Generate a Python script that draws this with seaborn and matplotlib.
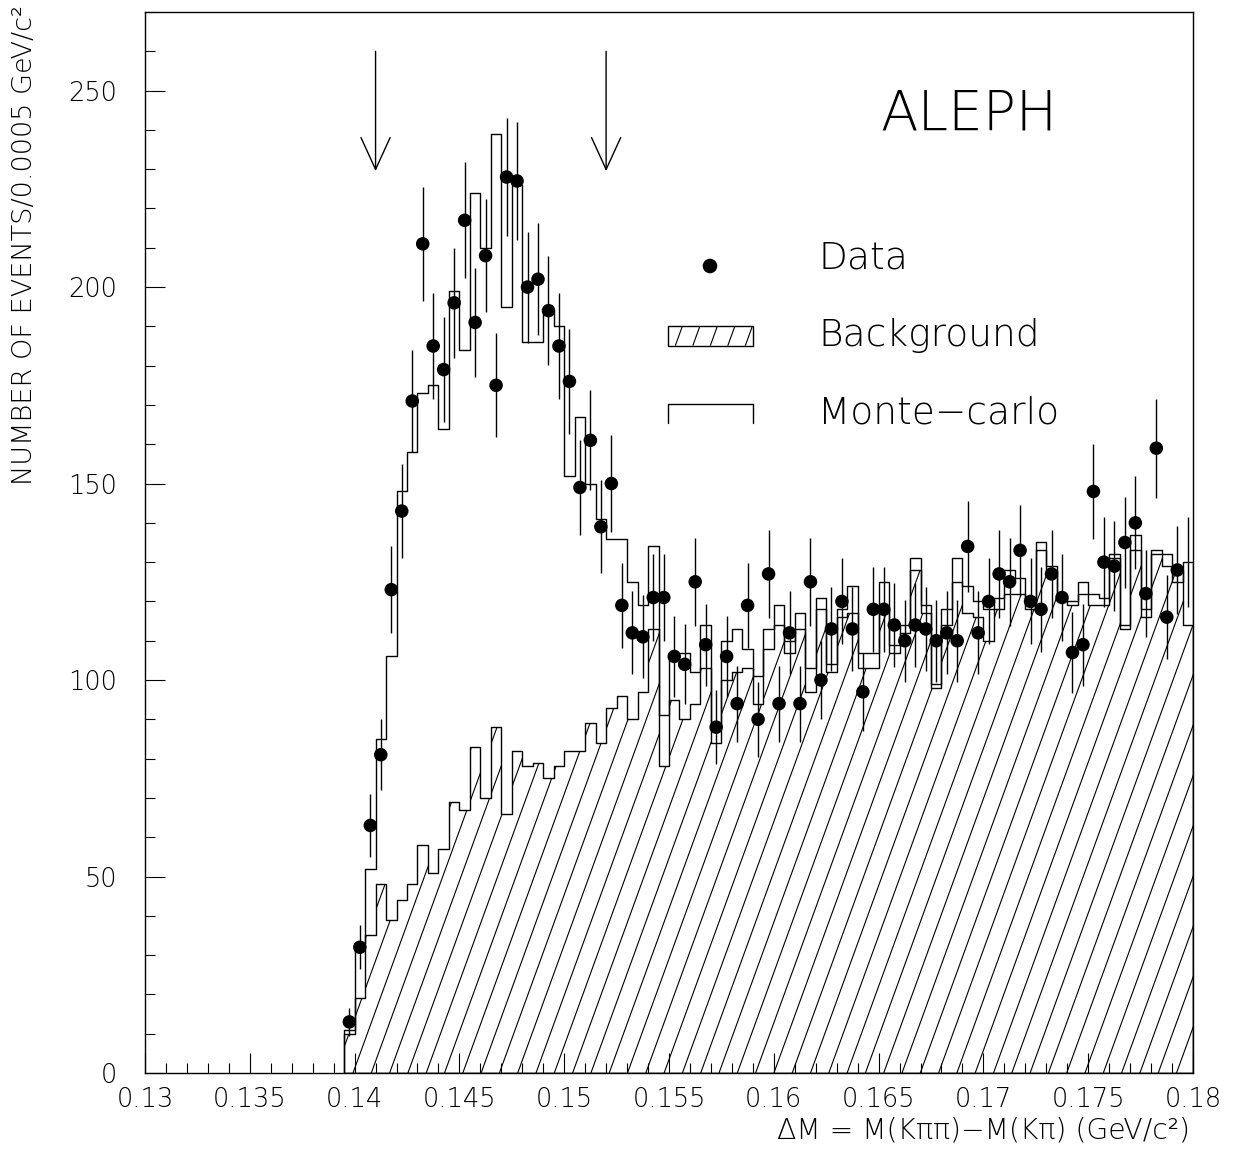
import numpy as np
import matplotlib
matplotlib.use("Agg")
import matplotlib.pyplot as plt
import matplotlib.font_manager as fm
from matplotlib.collections import LineCollection
from matplotlib.patches import Rectangle
from matplotlib.ticker import MultipleLocator, FuncFormatter
import seaborn as sns

# ---------------- data ----------------
bin_low = 0.1395
bin_width = 0.0005

data_counts = [13, 32, 63, 81, 123, 143, 171, 211, 185, 179,
               196, 217, 191, 208, 175, 228, 227, 200, 202, 194,
               185, 176, 149, 161, 139, 150, 119, 112, 111, 121,
               121, 106, 104, 125, 109, 88, 106, 94, 119, 90,
               127, 94, 112, 94, 125, 100, 113, 120, 113, 97,
               118, 118, 114, 110, 114, 113, 110, 112, 110, 134,
               112, 120, 127, 125, 133, 120, 118, 127, 121, 107,
               109, 148, 130, 129, 135, 140, 122, 159, 116, 128]
last_bin_count = 130  # shown only as an error bar in the original

mc_counts = [11, 33, 52, 85, 106, 148, 158, 173, 175, 164,
             199, 184, 224, 210, 239, 195, 226, 186, 186, 194,
             190, 152, 167, 150, 141, 136, 136, 125, 119, 134,
             91, 107, 107, 102, 114, 88, 110, 113, 108, 101,
             113, 119, 110, 117, 103, 121, 104, 118, 124, 107,
             107, 125, 109, 114, 131, 119, 99, 118, 131, 124,
             120, 118, 121, 128, 126, 120, 135, 129, 121, 120,
             125, 122, 121, 132, 114, 137, 118, 133, 132, 125,
             130]

bg_counts = [10, 19, 35, 48, 39, 44, 48, 58, 51, 57,
             69, 67, 83, 70, 88, 66, 82, 78, 79, 75,
             78, 82, 82, 89, 84, 93, 96, 90, 97, 113,
             78, 95, 90, 94, 103, 84, 100, 102, 103, 94,
             108, 114, 107, 113, 97, 118, 102, 116, 117, 103,
             103, 118, 107, 112, 128, 117, 98, 114, 125, 117,
             116, 110, 118, 122, 122, 118, 133, 128, 120, 119,
             122, 119, 119, 131, 113, 133, 116, 132, 129, 128,
             114]

cut_positions = [0.141, 0.152]
legend_labels = ["Data", "Background", "Monte\u2212carlo"]
x_label = "\u0394M = M(K\u03c0\u03c0)\u2212M(K\u03c0) (GeV/c\u00b2)"
y_label = "NUMBER OF EVENTS/0.0005 GeV/c\u00b2"
experiment = "ALEPH"

# ---------------- style ----------------
sns.set_theme(style="white")


def _weight(f):
    w = f.weight
    if isinstance(w, str):
        w = fm.weight_dict.get(w, 400)
    return w


font_choice = ("DejaVu Sans", 400)
for fam in ["DejaVu Sans", "Lato", "Roboto", "Open Sans", "Noto Sans"]:
    ws = [_weight(f) for f in fm.fontManager.ttflist if f.name == fam]
    lights = [w for w in ws if w <= 300]
    if lights:
        font_choice = (fam, max(lights))
        break

plt.rcParams["font.family"] = [font_choice[0], "DejaVu Sans"]
plt.rcParams["font.weight"] = font_choice[1]
plt.rcParams["axes.labelweight"] = font_choice[1]
plt.rcParams["axes.linewidth"] = 1.0
for key in ["text.color", "axes.labelcolor", "xtick.color", "ytick.color",
            "xtick.labelcolor", "ytick.labelcolor"]:
    plt.rcParams[key] = "black"

n_bins = len(mc_counts)
edges = bin_low + bin_width * np.arange(n_bins + 1)
centers = edges[:-1] + bin_width / 2
bin_list = [float(e) for e in edges]

fig = plt.figure(figsize=(12.35, 11.63), dpi=100)
ax = fig.add_axes([0.11741, 0.07739, 0.84858, 0.91229])

# background histogram (outline), then hatch clipped to it
sns.histplot(x=centers, weights=bg_counts, bins=bin_list, element="step",
             fill=True, color="black", facecolor="none", edgecolor="black",
             linewidth=1.0, ax=ax, zorder=2)
bg_path = ax.collections[-1].get_paths()[0]

W_px, H_px = 1048.0, 1061.0
hatch_slope_px = 2.75
hatch_dx = H_px / hatch_slope_px / W_px      # horizontal run over full height (axes frac)
hatch_step = 18.3 / W_px
segs = [[(u, 0.0), (u + hatch_dx, 1.0)] for u in np.arange(-0.5, 1.02, hatch_step)]
hatch = LineCollection(segs, colors="black", linewidths=0.8,
                       transform=ax.transAxes, zorder=2)
ax.add_collection(hatch)
hatch.set_clip_path(bg_path, ax.transData)

# Monte-carlo histogram
sns.histplot(x=centers, weights=mc_counts, bins=bin_list, element="step",
             fill=True, color="black", facecolor="none", edgecolor="black",
             linewidth=1.0, ax=ax, zorder=3)

# data with Poisson error bars
data_arr = np.array(data_counts, dtype=float)
xc = centers[:len(data_counts)]
err = np.sqrt(data_arr)
ax.vlines(xc, data_arr - err, data_arr + err, color="black", lw=1.0, zorder=4)
ax.vlines(centers[len(data_counts)], last_bin_count - np.sqrt(last_bin_count),
          last_bin_count + np.sqrt(last_bin_count), color="black", lw=1.0, zorder=4)
sns.scatterplot(x=xc, y=data_arr, color="black", s=95, edgecolor="none",
                ax=ax, zorder=5, legend=False)

# cut arrows
for xp in cut_positions:
    ax.annotate("", xy=(xp, 229.5), xytext=(xp, 260),
                arrowprops=dict(arrowstyle="->,head_length=2.3,head_width=1.05",
                                mutation_scale=10, lw=1.0, color="black",
                                shrinkA=0, shrinkB=0))

# ---------------- legend (hand drawn, like the original) ----------------
ax.scatter([0.5391], [0.7606], s=110, color="black", transform=ax.transAxes,
           zorder=6, edgecolors="none")
ax.text(0.6422, 0.7587, legend_labels[0], transform=ax.transAxes,
        fontsize=27, va="baseline", ha="left")

rect = Rectangle((0.4993, 0.6855), 0.0811, 0.0188, transform=ax.transAxes,
                 fill=False, edgecolor="black", lw=1.0, zorder=6)
ax.add_patch(rect)
lsegs = [[(u, 0.6855), (u + 0.0188 * H_px / hatch_slope_px / W_px, 0.7043)]
         for u in np.arange(0.4993 - 0.01, 0.5804 + 0.001, 17.5 / W_px)]
leg_hatch = LineCollection(lsegs, colors="black", linewidths=0.8,
                           transform=ax.transAxes, zorder=6)
ax.add_collection(leg_hatch)
leg_hatch.set_clip_path(rect)
ax.text(0.6422, 0.6855, legend_labels[1], transform=ax.transAxes,
        fontsize=27, va="baseline", ha="left")

ax.plot([0.4993, 0.4993, 0.5804, 0.5804], [0.6124, 0.6302, 0.6302, 0.6124],
        transform=ax.transAxes, color="black", lw=1.0)
ax.text(0.6422, 0.6124, legend_labels[2], transform=ax.transAxes,
        fontsize=27, va="baseline", ha="left")

ax.text(0.7013, 0.8897, experiment, transform=ax.transAxes,
        fontsize=39.5, va="baseline", ha="left")

# ---------------- axes ----------------
ax.set_xlim(0.13, 0.18)
ax.set_ylim(0, 270)
ax.xaxis.set_major_locator(MultipleLocator(0.005))
ax.xaxis.set_minor_locator(MultipleLocator(0.001))
ax.yaxis.set_major_locator(MultipleLocator(50))
ax.yaxis.set_minor_locator(MultipleLocator(10))
ax.xaxis.set_major_formatter(FuncFormatter(lambda v, p: f"{v:g}"))
ax.yaxis.set_major_formatter(FuncFormatter(lambda v, p: f"{v:g}"))
ax.tick_params(which="both", direction="in", top=False, right=False,
               bottom=True, left=True, color="black", width=0.8,
               labelcolor="black")
ax.tick_params(which="major", length=14.4, labelsize=18.5)
ax.tick_params(axis="x", which="major", pad=10)
ax.tick_params(axis="y", which="major", pad=20)
ax.tick_params(which="minor", length=7.5)
for s in ax.spines.values():
    s.set_color("black")
    s.set_linewidth(1.0)

ax.set_xlabel(x_label, fontsize=20.3, loc="right", color="black")
ax.xaxis.set_label_coords(0.9971, -0.041)
ax.set_ylabel(y_label, fontsize=19.5, loc="top", color="black")
ax.yaxis.set_label_coords(-0.103, 1.0066)

fig.savefig("out.png", dpi=100)
